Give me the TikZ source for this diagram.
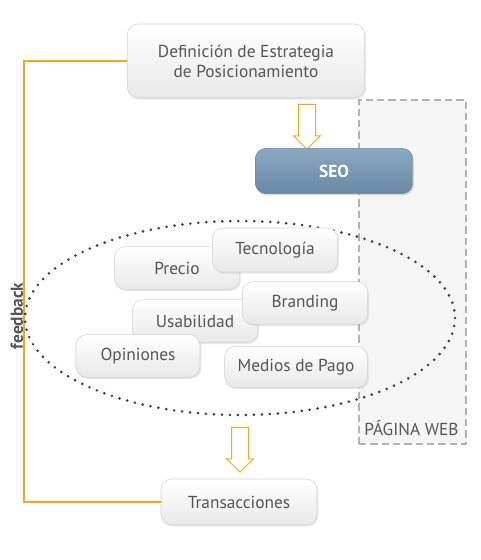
\documentclass[tikz,border=0pt]{standalone}
\usepackage{fontspec}
\setmainfont{PT Sans}
\usetikzlibrary{shadows,shapes.arrows}
\definecolor{fbOrange}{HTML}{F5A623}
\definecolor{txtGray}{HTML}{555555}
\definecolor{seoLight}{HTML}{8CA8C1}
\definecolor{seoDark}{HTML}{6888A5}
\definecolor{webFill}{HTML}{F5F5F5}
\newcommand{\boxFont}[0]{\fontsize{13}{15}\selectfont}

\begin{document}
\begin{tikzpicture}[x=0.75pt, y=-0.75pt]
  \tikzset{
    softbox/.style={draw=gray!35, rounded corners=8pt, top color=white,
      bottom color=gray!18, text=txtGray, align=center, font=\boxFont,
      inner sep=2pt,
      drop shadow={opacity=0.18, shadow xshift=1pt, shadow yshift=-1.3pt}},
    seobox/.style={draw=seoDark, rounded corners=8pt, top color=seoLight,
      bottom color=seoDark, text=white, font=\boxFont\bfseries,
      drop shadow={opacity=0.25, shadow xshift=1pt, shadow yshift=-1.3pt}},
    hollowarrow/.style={single arrow, draw=fbOrange, fill=white,
      line width=0.75pt, rotate=-90, inner sep=6pt, minimum height=33.75pt,
      minimum width=19.5pt, single arrow head extend=3.75pt},
    webbox/.style={draw=gray!60, fill=webFill, line width=1.5pt,
      dash pattern=on 5.5pt off 3pt},
    dotring/.style={draw=black!75, line width=2.2pt, line cap=round,
      dash pattern=on 0pt off 6pt},
    fbline/.style={draw=fbOrange, line width=1.5pt}
  }
  \useasboundingbox (0,0) rectangle (480,560);

  % pagina web
  \node[webbox, anchor=north west, minimum width=80.25pt,
    minimum height=258pt] (web) at (358,99) {};
  \node[anchor=base, text=txtGray, font=\boxFont] (webtext) at (411.5,435)
    {PÁGINA WEB};

  % feedback loop
  \node[softbox, minimum width=178pt, minimum height=55.5pt] (strategy)
    at (246,61) {Definición de Estrategia\\de Posicionamiento};
  \node[softbox, minimum width=117pt, minimum height=34.5pt] (trans)
    at (239,502) {Transacciones};
  \coordinate (fbx) at (24,0);
  \draw[fbline] (strategy.west) -- (strategy.west -| fbx) |- (trans.west);
  \node[rotate=90, anchor=south, inner sep=0.5pt, text=txtGray,
    font=\boxFont\bfseries] (fbtext) at (24,316) {feedback};

  % seo
  \node[hollowarrow] (arrowseo) at (307,122.5) {};
  \node[seobox, minimum width=118pt, minimum height=34pt] (seo)
    at (334,171) {SEO};

  % factores
  \draw[dotring] (240,318) ellipse [x radius=215, y radius=97];
  \node[softbox, minimum width=94pt, minimum height=32pt] (precio)
    at (177,268) {Precio};
  \node[softbox, minimum width=94pt, minimum height=33pt] (tecno)
    at (275,250) {Tecnología};
  \node[softbox, minimum width=94pt, minimum height=32pt] (usab)
    at (195,321) {Usabilidad};
  \node[softbox, minimum width=94pt, minimum height=32pt] (brand)
    at (305,303) {Branding};
  \node[softbox, minimum width=93pt, minimum height=32pt] (opin)
    at (138,356) {Opiniones};
  \node[softbox, minimum width=107pt, minimum height=31pt] (medios)
    at (296,367) {Medios de Pago};

  \node[hollowarrow] (arrowtrans) at (240,445.5) {};
\end{tikzpicture}
\end{document}
